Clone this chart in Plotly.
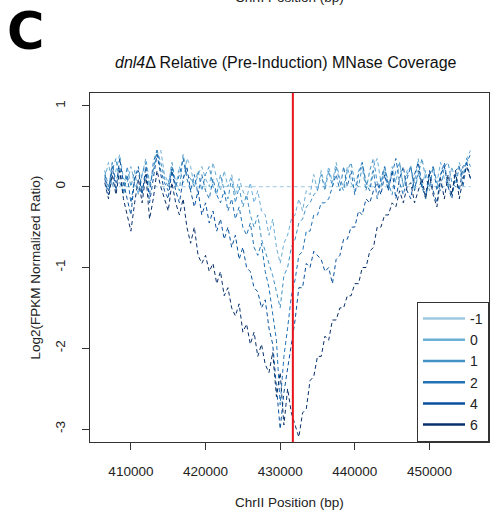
import plotly.graph_objects as go

# Genomic positions (bp), 500-bp bins
positions = list(range(406500, 456000, 500))

timepoints = ["-1", "0", "1", "2", "4", "6"]
colors = ["#9ecae1", "#6baed6", "#4292c6", "#2171b5", "#08519c", "#08306b"]

rel_m1 = [0, 0, 0, 0, 0, 0, 0, 0, 0, 0, 0, 0, 0, 0, 0, 0, 0, 0, 0, 0,
          0, 0, 0, 0, 0, 0, 0, 0, 0, 0, 0, 0, 0, 0, 0, 0, 0, 0, 0, 0,
          0, 0, 0, 0, 0, 0, 0, 0, 0, 0, 0, 0, 0, 0, 0, 0, 0, 0, 0, 0,
          0, 0, 0, 0, 0, 0, 0, 0, 0, 0, 0, 0, 0, 0, 0, 0, 0, 0, 0, 0,
          0, 0, 0, 0, 0, 0, 0, 0, 0, 0, 0, 0, 0, 0, 0, 0, 0, 0, 0]

rel_0 = [0.1, 0.3, 0.0, 0.2, 0.4, 0.1, 0.05, 0.25, 0.05, -0.05, 0.15, 0.35, 0.05, 0.2, 0.4, 0.45,
         0.15, 0.05, 0.2, 0.0, 0.25, 0.05, 0.35, 0.25, 0.0, 0.15, 0.25, 0.1, 0.0, 0.3, 0.1, -0.05,
         0.2, 0.0, 0.15, -0.1, 0.1, -0.05, -0.15, 0.05,
         -0.2, -0.05, -0.3, -0.35, -0.6, -0.4, -0.75, -0.95, -0.7, -0.6, -0.4, -0.35, -0.15,
         -0.3, -0.05, -0.1,
         0.15, -0.05, 0.2, 0.0, 0.25, 0.05, 0.3, 0.1, 0.0, 0.25, 0.05, -0.05, 0.2, 0.3, 0.05, 0.0,
         0.25, 0.35, 0.05, 0.2, -0.05, 0.25, 0.05, 0.3, 0.0, 0.2, 0.25, 0.05, 0.35, 0.0, 0.2, -0.05,
         0.25, 0.05, 0.3, 0.1, 0.0, 0.25, 0.05, 0.3, 0.15, 0.35, 0.45]

rel_1 = [0.2, 0.0, 0.2, 0.35, 0.05, -0.05, 0.25, 0.0, 0.2, -0.1, 0.15, 0.3, 0.0, 0.2, 0.45, 0.3,
         0.1, 0.0, 0.3, 0.05, -0.05, 0.4, 0.15, 0.1, 0.0, 0.2, -0.05, 0.15, 0.25, 0.0, -0.1, 0.15,
         -0.05, -0.15, 0.1, -0.2, 0.0,
         -0.25, -0.1, -0.35, -0.5, -0.35, -0.65, -0.8, -0.95, -1.1, -1.3, -1.5, -1.1, -1.0,
         -0.75, -0.65, -0.45, -0.4, -0.25, -0.2, -0.1, -0.05,
         0.15, -0.05, 0.2, 0.0, 0.25, 0.05, -0.05, 0.2, 0.3, 0.05, 0.0, 0.25, -0.05, 0.2, 0.35, 0.05,
         0.0, 0.25, 0.05, -0.1, 0.2, 0.3, 0.0, 0.15, 0.25, -0.05, 0.15, 0.35, 0.1, 0.0, 0.25, 0.05,
         -0.05, 0.25, 0.3, 0.05, 0.0, 0.25, 0.1, 0.35, 0.25]

rel_2 = [0.15, -0.05, 0.3, 0.05, 0.25, -0.1, 0.15, -0.2, 0.1, 0.25, -0.05, 0.15, -0.1, 0.3, 0.45, 0.2,
         0.05, -0.05, 0.25, 0.0, 0.15, 0.35, 0.1, -0.05, 0.15, -0.1, 0.15, -0.05, -0.15, 0.1, -0.1, -0.2,
         -0.05, -0.3, -0.15, -0.4, -0.25, -0.5, -0.6, -0.45, -0.75, -0.85, -0.7, -1.05, -1.25, -1.6,
         -1.9, -2.7, -2.1, -1.75, -1.35, -1.15, -0.85, -0.8, -0.55, -0.55, -0.35, -0.35, -0.2, -0.2,
         -0.15, 0.0,
         0.15, -0.05, 0.25, 0.0, 0.2, -0.1, 0.15, 0.3, 0.05, -0.05, 0.2, -0.15, 0.1, 0.25, 0.0, 0.15,
         0.35, 0.05, -0.1, 0.1, 0.25, -0.05, 0.2, 0.0, -0.15, 0.15, 0.25, -0.05, 0.15, 0.3, 0.0, -0.1,
         0.2, 0.25, 0.0, 0.3, 0.4]

rel_4 = [0.1, -0.1, 0.25, -0.05, 0.35, 0.05, -0.15, -0.35, 0.1, 0.2, -0.1, 0.25, -0.2, 0.1, 0.4, 0.15,
         -0.05, -0.15, 0.2, -0.05, -0.2, 0.1, 0.25, -0.05, -0.25, -0.05, -0.35,
         -0.2, -0.45, -0.3, -0.55, -0.4, -0.65, -0.5, -0.75, -0.6, -0.9, -0.75, -1.0, -1.05, -1.25,
         -1.3, -1.5, -1.4, -1.75, -1.95, -2.45, -3.0, -2.55, -2.25, -1.95, -1.65, -1.25, -1.25, -0.95,
         -1.0, -0.8, -0.85, -0.9, -1.05, -1.0, -1.2, -0.9, -0.85, -0.65, -0.65, -0.5, -0.5,
         -0.3, -0.35, -0.15, -0.2, -0.05, 0.05,
         -0.1, 0.15, -0.05, 0.2, -0.15, 0.1, 0.25, -0.05, -0.15, 0.15, 0.3, 0.0, -0.1, 0.2, -0.05,
         -0.2, 0.15, 0.25, 0.0, -0.15, 0.15, -0.05, 0.25, 0.3, 0.1]

rel_6 = [0.05, -0.15, 0.15, -0.1, 0.2, -0.15, -0.35, -0.55, -0.2, 0.1, -0.2, 0.15, -0.4, -0.15,
         0.2, 0.0, -0.15, -0.3, 0.05, -0.2, -0.35, -0.15, -0.5, -0.7, -0.5, -0.85, -0.95, -0.85,
         -1.05, -0.95, -1.2, -1.05, -1.35, -1.25, -1.5, -1.6, -1.45, -1.8, -1.7, -1.95, -1.8,
         -2.1, -1.95, -2.2, -2.3, -2.05, -2.6, -2.3, -2.95, -2.5, -2.8, -2.95, -3.1, -2.8,
         -2.75, -2.4, -2.35, -2.1, -2.1, -1.85, -1.9, -1.65, -1.65, -1.5, -1.5, -1.35, -1.35,
         -1.2, -1.2, -1.0, -1.0, -0.8, -0.75, -0.5, -0.5, -0.35, -0.35, -0.2, -0.25, -0.05,
         -0.2, 0.0, 0.05, -0.2, -0.05, 0.1, -0.15, 0.15, -0.1, -0.25, 0.1, -0.15, 0.15, -0.1,
         0.2, -0.15, 0.1, 0.25, 0.1]

series = [rel_m1, rel_0, rel_1, rel_2, rel_4, rel_6]

cut_site = 431700
x_ticks = [410000, 420000, 430000, 440000, 450000]
y_ticks = [-3, -2, -1, 0, 1]

FONT = "Liberation Sans, Arial, Helvetica, sans-serif"
AXC = "#333333"

fig = go.Figure()
for name, vals, col in zip(timepoints, series, colors):
    fig.add_trace(go.Scatter(x=positions[:len(vals)], y=vals, mode="lines", name=name,
                             line=dict(color=col, width=1, dash="4px,3px"),
                             showlegend=False, hoverinfo="skip"))
# legend entries (solid samples)
for name, col in zip(timepoints, colors):
    fig.add_trace(go.Scatter(x=[None], y=[None], mode="lines", name=name,
                             line=dict(color=col, width=2.5), showlegend=True))

fig.add_shape(type="line", x0=cut_site, x1=cut_site, xref="x", y0=0, y1=1, yref="paper",
              line=dict(color="#e8141c", width=2))

fig.update_layout(
    width=490, height=514,
    margin=dict(l=90, r=1, t=93, b=72),
    paper_bgcolor="white", plot_bgcolor="white",
    font=dict(family=FONT, size=13, color="#222222"),
    showlegend=True,
    legend=dict(x=1, y=0, xanchor="right", yanchor="bottom",
                bgcolor="white", bordercolor=AXC, borderwidth=1,
                font=dict(size=14, family=FONT, color="#222222"),
                itemwidth=42, tracegroupgap=0),
    xaxis=dict(range=[404520, 457980], tickvals=x_ticks, ticktext=[str(v) for v in x_ticks],
               ticks="outside", ticklen=7, tickwidth=1, tickcolor=AXC,
               showline=True, linecolor=AXC, linewidth=1, mirror=True,
               showgrid=False, zeroline=False, ticklabelstandoff=10,
               tickfont=dict(size=13.5, family=FONT, color="#222222")),
    yaxis=dict(range=[-3.16, 1.16], tickvals=y_ticks, ticktext=[str(v) for v in y_ticks],
               ticks="outside", ticklen=7, tickwidth=1, tickcolor=AXC, tickangle=-90,
               showline=True, linecolor=AXC, linewidth=1, mirror=True,
               showgrid=False, zeroline=False, ticklabelstandoff=12,
               tickfont=dict(size=13.5, family=FONT, color="#222222")),
    annotations=[
        dict(text="<i>dnl4</i>\u0394 Relative (Pre-Induction) MNase Coverage",
             xref="paper", yref="paper", x=0.49, y=1, yshift=31, showarrow=False,
             xanchor="center", yanchor="middle",
             font=dict(size=16, family=FONT, color="#111111")),
        dict(text="ChrII Position (bp)", xref="paper", yref="paper", x=0.5, y=0,
             yshift=-60, showarrow=False, xanchor="center", yanchor="middle",
             font=dict(size=13.5, family=FONT, color="#222222")),
        dict(text="Log2(FPKM Normalized Ratio)", xref="paper", yref="paper", x=0, y=0.5,
             xshift=-55, showarrow=False, textangle=-90, xanchor="center", yanchor="middle",
             font=dict(size=13.5, family=FONT, color="#222222")),
        dict(text="ChrII Position (bp)", xref="paper", yref="paper", x=0.5, y=1,
             yshift=96, showarrow=False, xanchor="center", yanchor="middle",
             font=dict(size=13.5, family=FONT, color="#222222")),
        dict(text="<b>C</b>", xref="paper", yref="paper", x=0, y=1, xshift=-85, yshift=93,
             showarrow=False, xanchor="left", yanchor="top",
             font=dict(size=51, family="DejaVu Sans", color="#000000")),
    ],
)

fig.write_html("out.html", config={"displayModeBar": False},
               post_script="document.body.style.margin='0';document.body.style.padding='0';")
